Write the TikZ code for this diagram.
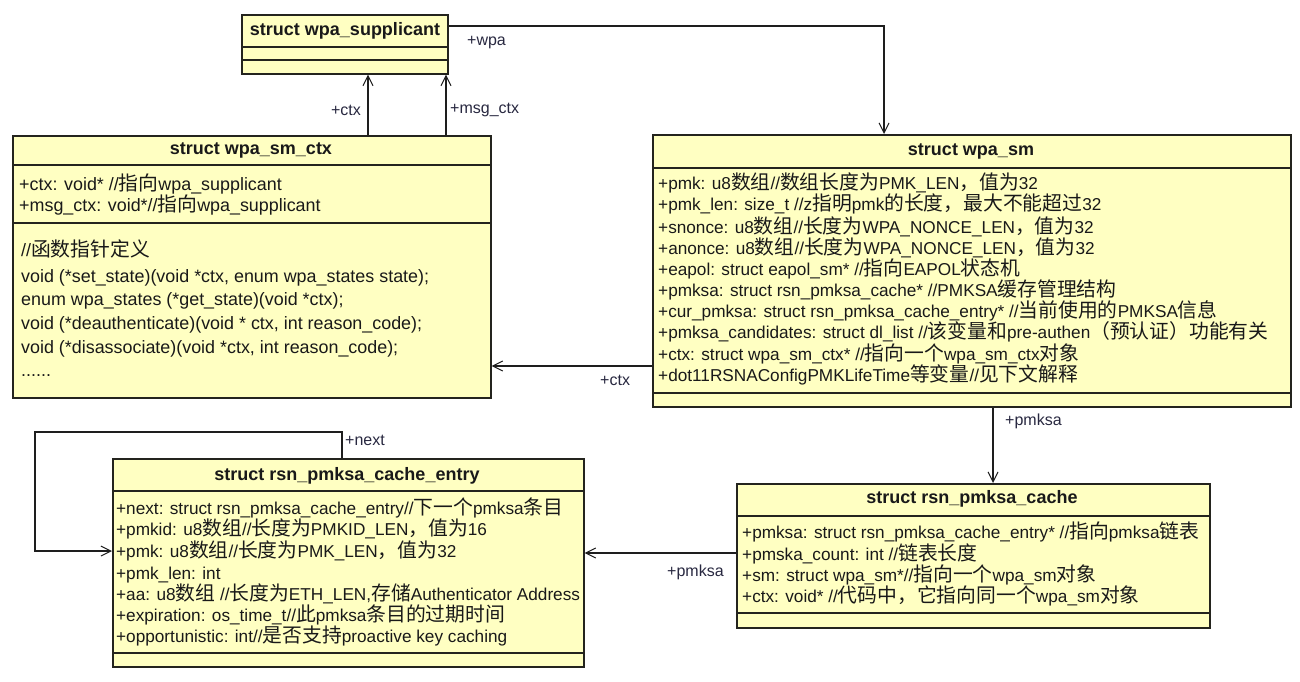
\documentclass[tikz,border=0pt]{standalone}
\usepackage{fontspec}
\setmainfont{Liberation Sans}
\newfontfamily\cjkfont{Noto Sans CJK SC}
\usetikzlibrary{arrows.meta}
\newcommand\zh[1]{{\cjkfont\fontsize{19.8}{21}\selectfont #1}}
\definecolor{boxfill}{RGB}{255,255,194}
\definecolor{boxline}{RGB}{36,36,30}
\definecolor{txt}{RGB}{25,25,25}
\definecolor{lbltxt}{RGB}{40,40,64}
\definecolor{lineclr}{RGB}{30,30,30}
\begin{document}
\begin{tikzpicture}[x=1pt,y=-1pt,
  box/.style={draw=boxline, fill=boxfill, line width=1.7pt, anchor=north west, inner sep=0pt, rectangle},
  sep/.style={draw=boxline, line width=1.7pt},
  ttl/.style={inner sep=0pt, font=\fontsize{18}{21}\selectfont\bfseries, text=txt},
  attr/.style={anchor=base west, inner sep=0pt, font=\fontsize{17.2}{21}\selectfont, text=txt},
  attrb/.style={attr, font=\fontsize{17.9}{21}\selectfont},
  lbl/.style={inner sep=0pt, font=\fontsize{16}{20}\selectfont, text=lbltxt},
  conn/.style={draw=lineclr, line width=1.2pt},
  arr/.style={conn, -{Straight Barb[length=10pt,width=10pt,line width=1pt]}},
]
\fill[white] (0,0) rectangle (1300,681);
\useasboundingbox (0,0) rectangle (1300,681);

% ---------- boxes ----------
\node[box, minimum width=206pt, minimum height=59pt] (sup) at (241,14) {};
\draw[sep] (sup.west |- 0,47) -- (sup.east |- 0,47);
\draw[sep] (sup.west |- 0,60) -- (sup.east |- 0,60);
\node[ttl] (supt) at (345,31) {struct wpa\_supplicant};

\node[box, minimum width=478pt, minimum height=262pt] (ctx) at (12,135) {};
\draw[sep] (ctx.west |- 0,165) -- (ctx.east |- 0,165);
\draw[sep] (ctx.west |- 0,223) -- (ctx.east |- 0,223);
\node[ttl] (ctxt) at (251,150) {struct wpa\_sm\_ctx};
\node[attrb] (c1) at (19,190) {+ctx: void* //\zh{指向}wpa\_supplicant};
\node[attrb] (c2) at (19,211) {+msg\_ctx: void*//\zh{指向}wpa\_supplicant};
\node[attrb] (c3) at (21,256) {//\zh{函数指针定义}};
\node[attrb] (c4) at (21,282) {void (*set\_state)(void *ctx, enum wpa\_states state);};
\node[attrb] (c5) at (21,305) {enum wpa\_states (*get\_state)(void *ctx);};
\node[attrb] (c6) at (21,329) {void (*deauthenticate)(void * ctx, int reason\_code);};
\node[attrb] (c7) at (21,353) {void (*disassociate)(void *ctx, int reason\_code);};
\node[attrb] (c8) at (21,376) {......};

\node[box, minimum width=638pt, minimum height=272pt] (sm) at (652,134) {};
\draw[sep] (sm.west |- 0,168) -- (sm.east |- 0,168);
\draw[sep] (sm.west |- 0,393) -- (sm.east |- 0,393);
\node[ttl] (smt) at (971,151) {struct wpa\_sm};
\node[attr] (s1) at (658,189) {+pmk: u8\zh{数组}//\zh{数组长度为}PMK\_LEN\zh{，值为}32};
\node[attr] (s2) at (658,210) {+pmk\_len: size\_t //z\zh{指明}pmk\zh{的长度，最大不能超过}32};
\node[attr] (s3) at (658,233) {+snonce: u8\zh{数组}//\zh{长度为}WPA\_NONCE\_LEN\zh{，值为}32};
\node[attr] (s4) at (658,254) {+anonce: u8\zh{数组}//\zh{长度为}WPA\_NONCE\_LEN\zh{，值为}32};
\node[attr] (s5) at (658,275) {+eapol: struct eapol\_sm* //\zh{指向}EAPOL\zh{状态机}};
\node[attr] (s6) at (658,296) {+pmksa: struct rsn\_pmksa\_cache* //PMKSA\zh{缓存管理结构}};
\node[attr] (s7) at (658,317) {+cur\_pmksa: struct rsn\_pmksa\_cache\_entry* //\zh{当前使用的}PMKSA\zh{信息}};
\node[attr] (s8) at (658,338) {+pmksa\_candidates: struct dl\_list //\zh{该变量和}pre-authen\zh{（预认证）功能有关}};
\node[attr] (s9) at (658,360) {+ctx: struct wpa\_sm\_ctx* //\zh{指向一个}wpa\_sm\_ctx\zh{对象}};
\node[attr] (s10) at (658,381) {+dot11RSNAConfigPMKLifeTime\zh{等变量}//\zh{见下文解释}};

\node[box, minimum width=473pt, minimum height=144pt] (cache) at (736,483) {};
\draw[sep] (cache.west |- 0,516) -- (cache.east |- 0,516);
\draw[sep] (cache.west |- 0,613) -- (cache.east |- 0,613);
\node[ttl] (cachet) at (972,499) {struct rsn\_pmksa\_cache};
\node[attr] (k1) at (742,538) {+pmksa: struct rsn\_pmksa\_cache\_entry* //\zh{指向}pmksa\zh{链表}};
\node[attr] (k2) at (742,560) {+pmska\_count: int //\zh{链表长度}};
\node[attr] (k3) at (742,581) {+sm: struct wpa\_sm*//\zh{指向一个}wpa\_sm\zh{对象}};
\node[attr] (k4) at (742,602) {+ctx: void* //\zh{代码中，它指向同一个}wpa\_sm\zh{对象}};

\node[box, minimum width=471pt, minimum height=208pt] (entry) at (112,458) {};
\draw[sep] (entry.west |- 0,491) -- (entry.east |- 0,491);
\draw[sep] (entry.west |- 0,653) -- (entry.east |- 0,653);
\node[ttl] (entryt) at (347,476) {struct rsn\_pmksa\_cache\_entry};
\node[attr] (e1) at (116,514) {+next: struct rsn\_pmksa\_cache\_entry//\zh{下一个}pmksa\zh{条目}};
\node[attr] (e2) at (116,535) {+pmkid: u8\zh{数组}//\zh{长度为}PMKID\_LEN\zh{，值为}16};
\node[attr] (e3) at (116,557) {+pmk: u8\zh{数组}//\zh{长度为}PMK\_LEN\zh{，值为}32};
\node[attr] (e4) at (116,579) {+pmk\_len: int};
\node[attr] (e5) at (116,600) {+aa: u8\zh{数组} //\zh{长度为}ETH\_LEN,\zh{存储}Authenticator Address};
\node[attr] (e6) at (116,621) {+expiration: os\_time\_t//\zh{此}pmksa\zh{条目的过期时间}};
\node[attr] (e7) at (116,642) {+opportunistic: int//\zh{是否支持}proactive key caching};

% ---------- connectors ----------
\draw[arr] (sup.east |- 0,26) -- (884,26) -- (884,0 |- sm.north);
\node[lbl, anchor=west] (lwpa) at (467,43) {+wpa};

\draw[arr] (368,0 |- ctx.north) -- (368,0 |- sup.south);
\node[lbl, anchor=east] (lctx1) at (361,110) {+ctx};
\draw[arr] (446,0 |- ctx.north) -- (446,0 |- sup.south);
\node[lbl, anchor=west] (lmsg) at (450,110) {+msg\_ctx};

\draw[arr] (sm.west |- 0,366) -- (ctx.east |- 0,366);
\node[lbl, anchor=west] (lctx2) at (600,380) {+ctx};

\draw[arr] (993,0 |- sm.south) -- (993,0 |- cache.north);
\node[lbl, anchor=west] (lpm1) at (1005,421) {+pmksa};

\draw[arr] (cache.west |- 0,553) -- (entry.east |- 0,553);
\node[lbl, anchor=west] (lpm2) at (667,572) {+pmksa};

\draw[arr] (342,0 |- entry.north) -- (342,432) -- (35,432) -- (35,551) -- (entry.west |- 0,551);
\node[lbl, anchor=west] (lnext) at (345,440) {+next};
\end{tikzpicture}
\end{document}
